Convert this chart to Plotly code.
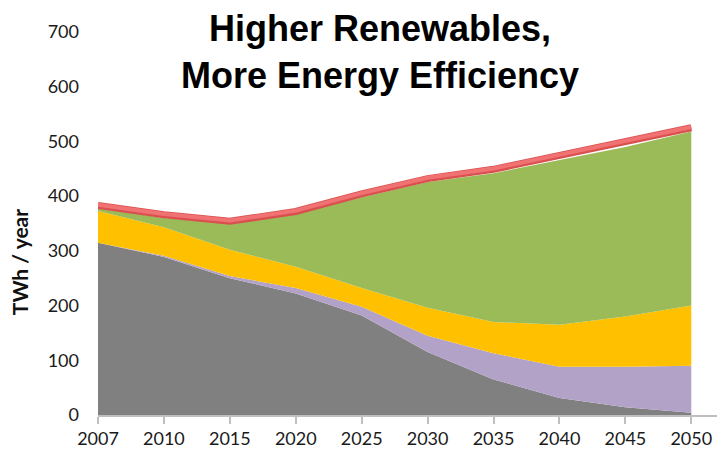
import plotly.graph_objects as go

# Years along the category axis
years = ["2007", "2010", "2015", "2020", "2025", "2030", "2035", "2040", "2045", "2050"]

# Stacked supply layers, TWh / year (bottom to top)
fossil = [315, 289, 250, 222, 182, 115, 65, 31, 14, 4]
purple_layer = [0, 2, 4, 10, 16, 30, 48, 57, 74, 86]
yellow_layer = [58, 52, 48, 39, 34, 51, 57, 77, 92, 110]
renewables = [5, 17, 48, 96, 166, 230, 272, 301, 310, 318]

# Total demand line drawn over the stack
demand = [383, 366, 354, 372, 404, 432, 449, 474, 499, 525]

y_ticks = [0, 100, 200, 300, 400, 500, 600, 700]

fig = go.Figure()

layers = [
    ("Fossil", fossil, "#808080"),
    ("Other", purple_layer, "#b3a2c7"),
    ("Hydro", yellow_layer, "#ffc000"),
    ("Renewables", renewables, "#9bbb59"),
]
for name, vals, col in layers:
    fig.add_trace(go.Scatter(
        x=years, y=vals, name=name, stackgroup="supply", mode="lines",
        line=dict(width=0, color=col), fillcolor=col, hoverinfo="skip",
    ))

# Demand line: darker underside with a brighter upper stroke
fig.add_trace(go.Scatter(
    x=years, y=demand, mode="lines", line=dict(color="#d9504f", width=7),
    hoverinfo="skip",
))
fig.add_trace(go.Scatter(
    x=[y for y in years], y=[v + 1.5 for v in demand], mode="lines",
    line=dict(color="#f07272", width=4), name="Demand",
))

fig.update_layout(
    width=717, height=457,
    margin=dict(l=98, r=0, t=32, b=42),
    paper_bgcolor="white", plot_bgcolor="white",
    showlegend=False,
    font=dict(family="Lato", size=17, color="#1a1a1a"),
    xaxis=dict(
        type="category", range=[0, 9.39],
        showgrid=False, zeroline=False,
        showline=True, linecolor="#bfbfbf", linewidth=1.5,
        ticks="outside", ticklen=7, tickcolor="#bfbfbf", tickwidth=1.5,
        tickfont=dict(family="Lato", size=18, color="#1a1a1a"),
    ),
    yaxis=dict(
        range=[0, 700], tickvals=y_ticks,
        showgrid=False, zeroline=False, showline=False,
        ticks="", ticklabelstandoff=18,
        tickfont=dict(family="Lato", size=18, color="#1a1a1a"),
    ),
    annotations=[
        dict(
            text="<b>Higher Renewables,<br>More Energy Efficiency</b>",
            xref="paper", yref="paper", x=0.4556, y=0.948,
            xanchor="center", yanchor="middle", showarrow=False,
            font=dict(family="Liberation Sans", size=36, color="black"),
        ),
        dict(
            text="<b>TWh / year</b>",
            xref="paper", yref="paper", x=-0.127, y=0.40,
            xanchor="center", yanchor="middle", textangle=-90, showarrow=False,
            font=dict(family="Lato", size=21, color="#111111"),
        ),
    ],
)

fig.write_html("out.html")
